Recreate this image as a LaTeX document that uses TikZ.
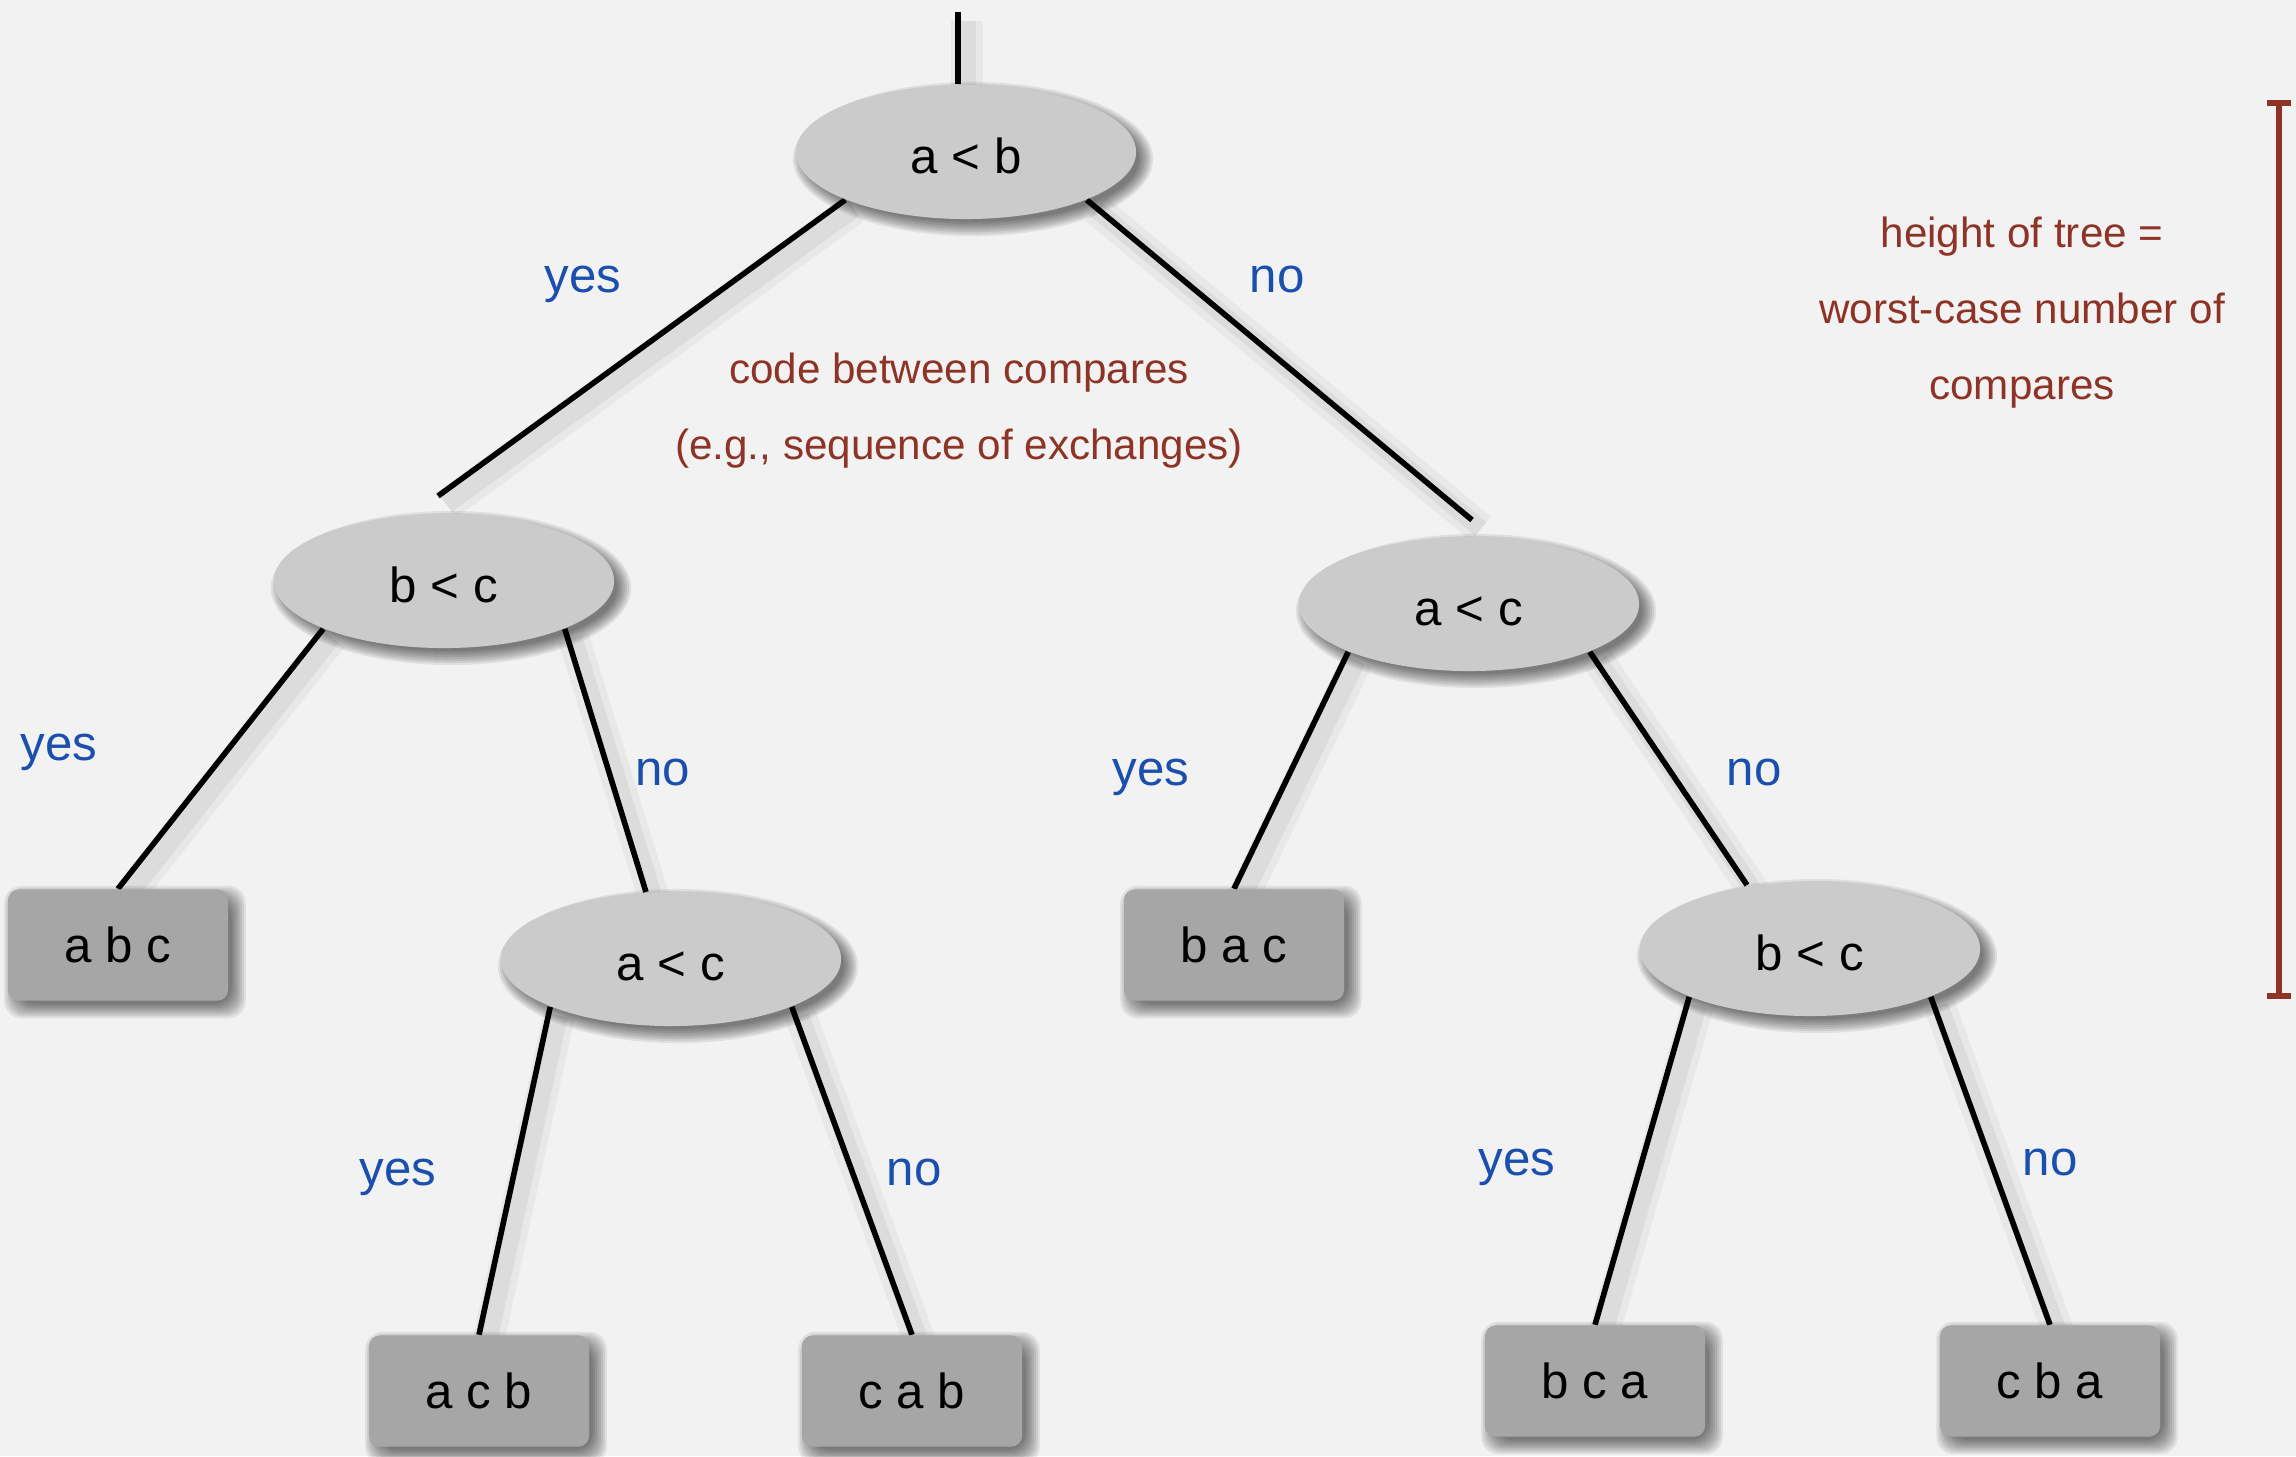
\documentclass[tikz,border=0pt]{standalone}
\usepackage{fontspec}
\setmainfont{Liberation Sans}
\usetikzlibrary{shapes.geometric,calc}
\definecolor{bgcol}{HTML}{F2F2F2}
\definecolor{ellfill}{HTML}{CBCBCB}
\definecolor{boxfill}{HTML}{A6A6A6}
\definecolor{lblue}{HTML}{1A4FAE}
\definecolor{dred}{HTML}{8E3426}
\pgfdeclarelayer{backlayer}
\pgfdeclarelayer{shadowlayer}
\pgfdeclarelayer{edgelayer}
\pgfsetlayers{backlayer,shadowlayer,edgelayer,main}
\begin{document}
\begin{tikzpicture}[x=0.01cm,y=-0.01cm,
  cmp/.style={ellipse, fill=ellfill, minimum width=3.4cm, minimum height=1.34cm, inner sep=0pt,
    text height=12pt, text depth=0pt, font=\fontsize{14}{16}\selectfont},
  leaf/.style={rectangle, rounded corners=3pt, fill=boxfill, minimum width=2.2cm, minimum height=1.11cm,
    inner sep=0pt, font=\fontsize{14}{16}\selectfont},
  edge/.style={line width=1.6pt, black,
    preaction={draw, black, opacity=0.04, line width=9pt, transform canvas={shift={(2.5pt,-2.5pt)}}},
    preaction={draw, black, opacity=0.05, line width=5pt, transform canvas={shift={(2.5pt,-2.5pt)}}}},
  shade/.style={fill=black, opacity=0.08},
  yn/.style={text=lblue, font=\fontsize{14}{16}\selectfont, anchor=base},
  note/.style={text=dred, font=\fontsize{12}{21.6}\selectfont, align=center},
  brk/.style={dred, line width=1.6pt}
]
\begin{pgfonlayer}{backlayer}
\fill[bgcol] (0,0) rectangle (2296,1456);
\end{pgfonlayer}
\useasboundingbox (0,0) rectangle (2296,1456);

% comparison nodes
\node[cmp] (root) at (966,152) {a < b};
\node[cmp] (bcL) at (444,581) {b < c};
\node[cmp] (acR) at (1469,604) {a < c};
\node[cmp] (acL) at (671,959) {a < c};
\node[cmp] (bcR) at (1810,949) {b < c};

% leaves
\node[leaf] (abc) at (118,945) {a b c};
\node[leaf] (bac) at (1234,945) {b a c};
\node[leaf] (acb) at (479,1391) {a c b};
\node[leaf] (cab) at (912,1391) {c a b};
\node[leaf] (bca) at (1595,1381) {b c a};
\node[leaf] (cba) at (2050,1381) {c b a};

% soft drop shadows
\begin{pgfonlayer}{shadowlayer}
\foreach \n in {root,bcL,acR,acL,bcR}{
  \foreach \k in {0,...,7}{
    \fill[shade] ($(\n.center)+(7,7)$) ellipse [x radius={1.66cm+0.02cm*\k}, y radius={0.63cm+0.02cm*\k}];
  }
}
\foreach \n in {abc,bac,acb,cab,bca,cba}{
  \foreach \k in {0,...,7}{
    \fill[shade, rounded corners=5pt] ($(\n.south west)+({11-2*\k},{3+2*\k})$) rectangle ($(\n.north east)+({3+2*\k},{11-2*\k})$);
  }
}
\end{pgfonlayer}

\coordinate (top) at (958,12);
\coordinate (eL) at ($(bcL.center)+(-6,-85)$);
\coordinate (eR) at ($(acR.center)+(3,-84)$);
\coordinate (eLL) at ($(acL.center)+(-25,-67)$);
\coordinate (eRR) at ($(bcR.center)+(-63,-64)$);

\begin{pgfonlayer}{edgelayer}
\draw[edge] (top) -- (top |- root.north);
\draw[edge] (root.south west) -- (eL);
\draw[edge] (root.south east) -- (eR);
\draw[edge] (bcL.south west) -- (abc.north);
\draw[edge] (bcL.south east) -- (eLL);
\draw[edge] (acR.south west) -- (bac.north);
\draw[edge] (acR.south east) -- (eRR);
\draw[edge] (acL.south west) -- (acb.north);
\draw[edge] (acL.south east) -- (cab.north);
\draw[edge] (bcR.south west) -- (bca.north);
\draw[edge] (bcR.south east) -- (cba.north);
\end{pgfonlayer}

% yes/no labels
\node[yn] (y1) at (583,292) {yes};
\node[yn] (n1) at (1277,292) {no};
\node[yn] (y2) at (59,760) {yes};
\node[yn] (n2) at (663,785) {no};
\node[yn] (y3) at (1151,785) {yes};
\node[yn] (n3) at (1754,785) {no};
\node[yn] (y4) at (398,1185) {yes};
\node[yn] (n4) at (914,1185) {no};
\node[yn] (y5) at (1517,1175) {yes};
\node[yn] (n5) at (2050,1175) {no};

% notes
\node[note] (code) at (959,411) {code between compares\\(e.g., sequence of exchanges)};
\node[note] (height) at (2022,313) {height of tree =\\worst-case number of\\compares};

% bracket
\coordinate (bt) at (2279,103);
\coordinate (bb) at (2279,996);
\draw[brk] (bt) -- (bb);
\draw[brk] ($(bt)+(-12,0)$) -- ($(bt)+(12,0)$);
\draw[brk] ($(bb)+(-12,0)$) -- ($(bb)+(12,0)$);
\end{tikzpicture}
\end{document}
